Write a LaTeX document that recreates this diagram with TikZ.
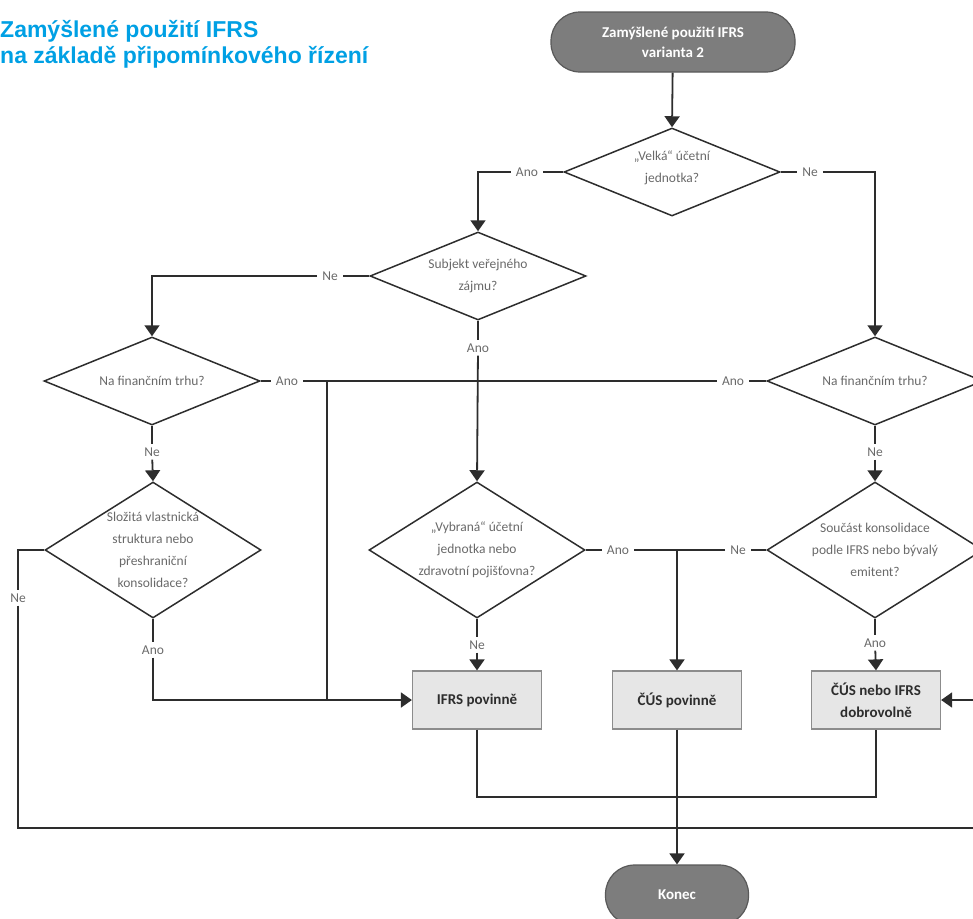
\documentclass[tikz,border=0pt]{standalone}
\usepackage{fontspec}
\setmainfont{Carlito}
\newfontfamily\nadpisfont{Liberation Sans}
\usetikzlibrary{shapes.geometric, arrows.meta, positioning, calc}
\definecolor{modra}{RGB}{0,160,228}
\definecolor{seda}{RGB}{105,105,105}
\definecolor{tmava}{RGB}{45,45,45}
\definecolor{vypln}{RGB}{230,230,230}
\definecolor{ovalfill}{RGB}{125,125,125}

\begin{document}
\begin{tikzpicture}[
  x=1pt, y=-1pt,
  font=\fontsize{13.5}{22}\selectfont,
  otazka/.style={diamond, draw=tmava, line width=1.5pt, inner sep=0pt,
                 minimum width=216pt, minimum height=88pt},
  vysoka/.style={otazka, minimum height=136pt},
  text otazky/.style={text=seda, align=center, inner sep=0pt},
  blok/.style={draw=black!45, fill=vypln, line width=1.2pt, align=center,
               minimum width=129pt, minimum height=58pt, text=tmava,
               font=\fontsize{15}{22}\selectfont\bfseries},
  ovalek/.style={draw=black!65, fill=ovalfill, line width=1.2pt, rounded corners=29pt,
                 minimum height=60pt, align=center, text=white,
                 font=\fontsize{15}{20}\selectfont\bfseries},
  stitek/.style={text=seda, inner xsep=5pt, inner ysep=3pt},
  spoj/.style={draw=tmava, line width=1.8pt},
  sipka/.style={spoj, -{Triangle[length=11pt,width=15pt]}}
]
\useasboundingbox (0,0) rectangle (973,918);
\clip (0,0) rectangle (973,918);

% nadpis
\node[anchor=west, inner sep=0pt, align=left, text=modra,
      font=\nadpisfont\bfseries\fontsize{23}{26}\selectfont] (nadpis) at (0,44)
  {Zamýšlené použití IFRS\\na základě připomínkového řízení};

% uzly
\node[ovalek, minimum width=244pt] (start) at (673,42) {Zamýšlené použití IFRS\\varianta 2};
\node[otazka, label={[text otazky, yshift=4pt]center:{„Velká“ účetní\\jednotka?}}] (velka) at (672,172) {};
\node[otazka, label={[text otazky]center:{Subjekt veřejného\\zájmu?}}] (verejny) at (478,276) {};
\node[otazka, label={[text otazky]center:{Na finančním trhu?}}] (trhL) at (152,381) {};
\node[otazka, label={[text otazky]center:{Na finančním trhu?}}] (trhP) at (875,381) {};
\node[vysoka, label={[text otazky]center:{Složitá vlastnická\\struktura nebo\\přeshraniční\\konsolidace?}}] (slozita) at (153,550) {};
\node[vysoka, label={[text otazky]center:{„Vybraná“ účetní\\jednotka nebo\\zdravotní pojišťovna?}}] (vybrana) at (477,550) {};
\node[vysoka, label={[text otazky]center:{Součást konsolidace\\podle IFRS nebo bývalý\\emitent?}}] (soucast) at (875,550) {};
\node[blok] (ifrs) at (477,700) {IFRS povinně};
\node[blok] (cus) at (677,700) {ČÚS povinně};
\node[blok] (dobr) at (876,700) {ČÚS nebo IFRS\\dobrovolně};
\node[ovalek, minimum width=143pt] (konec) at (677,895) {Konec};

% stitky
\node[stitek] (a1) at (527,172) {Ano};
\node[stitek] (n1) at (810,172) {Ne};
\node[stitek] (n2) at (330,276) {Ne};
\node[stitek] (a2) at (478,348) {Ano};
\node[stitek] (a3) at (287,381) {Ano};
\node[stitek] (a4) at (733,381) {Ano};
\node[stitek] (n3) at (152,452) {Ne};
\node[stitek] (n4) at (875,452) {Ne};
\node[stitek] (a5) at (618,550) {Ano};
\node[stitek] (n7) at (738,550) {Ne};
\node[stitek] (n6) at (18,598) {Ne};
\node[stitek] (n5) at (477,645) {Ne};
\node[stitek] (a6) at (153,650) {Ano};
\node[stitek] (a7) at (875,643) {Ano};

\coordinate (j1) at (327,381);
\coordinate (j2) at (677,550);
\coordinate (dole) at (0,797);
\coordinate (roh) at (18,828);
\coordinate (vpravo) at (990,828);
\coordinate (vstup) at (990,700);

% spoje
\draw[sipka] (start) -- (velka.north);
\draw[spoj] (velka.west) -- (a1);
\draw[sipka] (a1) -| (verejny.north);
\draw[spoj] (velka.east) -- (n1);
\draw[sipka] (n1) -| (trhP.north);
\draw[spoj] (verejny.west) -- (n2);
\draw[sipka] (n2) -| (trhL.north);
\draw[spoj] (verejny.south) -- (a2);
\draw[sipka] (a2) -- (vybrana.north);
\draw[spoj] (trhL.east) -- (a3);
\draw[spoj] (a3) -- (j1);
\draw[spoj] (trhP.west) -- (a4);
\draw[spoj] (a4) -- (j1) -- (j1 |- ifrs.west);
\draw[spoj] (trhL.south) -- (n3);
\draw[sipka] (n3) -- (slozita.north);
\draw[spoj] (trhP.south) -- (n4);
\draw[sipka] (n4) -- (soucast.north);
\draw[spoj] (vybrana.east) -- (a5);
\draw[spoj] (a5) -- (j2);
\draw[spoj] (soucast.west) -- (n7);
\draw[spoj] (n7) -- (j2);
\draw[sipka] (j2) -- (cus.north);
\draw[spoj] (vybrana.south) -- (n5);
\draw[sipka] (n5) -- (ifrs.north);
\draw[spoj] (slozita.south) -- (a6);
\draw[sipka] (a6) |- (ifrs.west);
\draw[spoj] (slozita.west) -| (n6);
\draw[spoj] (n6) -- (roh) -- (vpravo);
\draw[spoj] (soucast.south) -- (a7);
\draw[sipka] (a7) -- (dobr.north);
\draw[sipka] (vstup) -- (dobr.east);
\draw[spoj] (ifrs.south) -- (ifrs.south |- dole) -- (dobr.south |- dole) -- (dobr.south);
\draw[sipka] (cus.south) -- (konec.north);

\end{tikzpicture}
\end{document}
